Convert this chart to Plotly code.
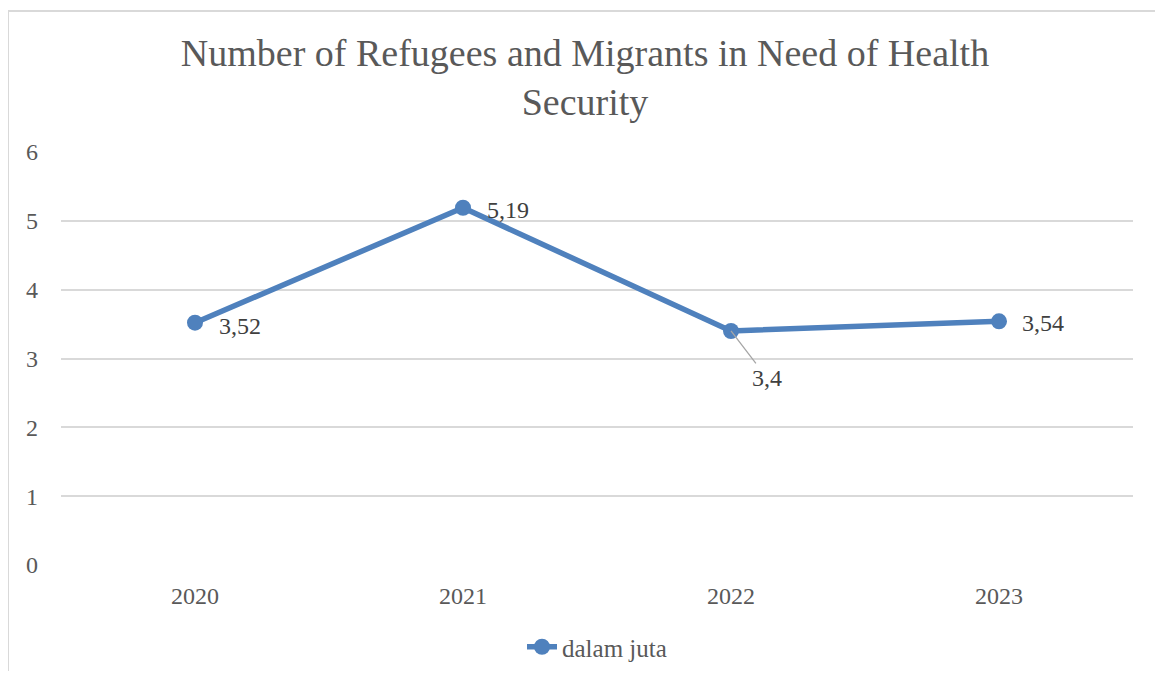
import plotly.graph_objects as go

years = ["2020", "2021", "2022", "2023"]
values = [3.52, 5.19, 3.4, 3.54]
labels = ["3,52", "5,19", "3,4", "3,54"]
series_name = "dalam juta"
title_text = "Number of Refugees and Migrants in Need of Health<br>Security"

FONT = "Liberation Serif"
TXT = "#595959"
BLUE = "#4f81bd"

fig = go.Figure()
fig.add_trace(go.Scatter(
    x=years, y=values, mode="lines+markers", name=series_name,
    line=dict(color=BLUE, width=5.5),
    marker=dict(size=16, color=BLUE),
))

# data labels (category index used as x position)
offsets = [(45, 3), (45, 2), (36, 47), (44, 2)]
for i, (v, lab) in enumerate(zip(values, labels)):
    ax, ay = offsets[i]
    leader = (i == 2)
    fig.add_annotation(
        x=i, y=v, xref="x", yref="y", text=lab,
        showarrow=True, arrowhead=0, arrowwidth=1.3,
        arrowcolor="#a6a6a6" if leader else "rgba(0,0,0,0)",
        ax=ax, ay=ay, standoff=0,
        font=dict(family=FONT, size=24, color="#404040"),
    )

# page offset of 8px (body margin)
OFF = 8
W, H = 1163 - OFF, 679 - 2 * OFF
plot_l, plot_r, plot_t, plot_b = 61, 1133, 152, 565
L = plot_l - OFF
R = 1163 - plot_r
T = plot_t - OFF
B = (OFF + H) - plot_b
pw, ph = plot_r - plot_l, plot_b - plot_t

fig.add_shape(type="rect", xref="paper", yref="paper",
              x0=(8 - plot_l) / pw, x1=(1161 - plot_l) / pw,
              y0=-(720 - plot_b) / ph, y1=(plot_b - 11) / ph,
              line=dict(color="#d9d9d9", width=2), layer="below")

fig.update_layout(
    width=W, height=H,
    margin=dict(l=L, r=R, t=T, b=B, autoexpand=False),
    paper_bgcolor="white", plot_bgcolor="white",
    separators=", ",
    title=dict(text=title_text, x=(585 - OFF) / W, xanchor="center",
               y=1 - (66 - OFF) / H, yanchor="middle",
               xref="container", yref="container",
               font=dict(family=FONT, size=38, color=TXT)),
    font=dict(family=FONT, color=TXT),
    showlegend=True,
    legend=dict(orientation="h", x=0.5, xanchor="center",
                y=-(647 - plot_b) / ph, yanchor="middle",
                font=dict(family=FONT, size=25, color=TXT)),
    xaxis=dict(type="category", range=[-0.5, 3.5], showgrid=False, showline=False,
               zeroline=False, ticks="", ticklabelstandoff=14,
               tickfont=dict(family=FONT, size=24, color=TXT)),
    yaxis=dict(range=[0, 6], dtick=1, showgrid=True, gridcolor="#d9d9d9", gridwidth=1.5,
               zeroline=False, showline=False, ticks="", ticklabelstandoff=22,
               tickfont=dict(family=FONT, size=24, color=TXT)),
)

fig.write_html("out.html")
